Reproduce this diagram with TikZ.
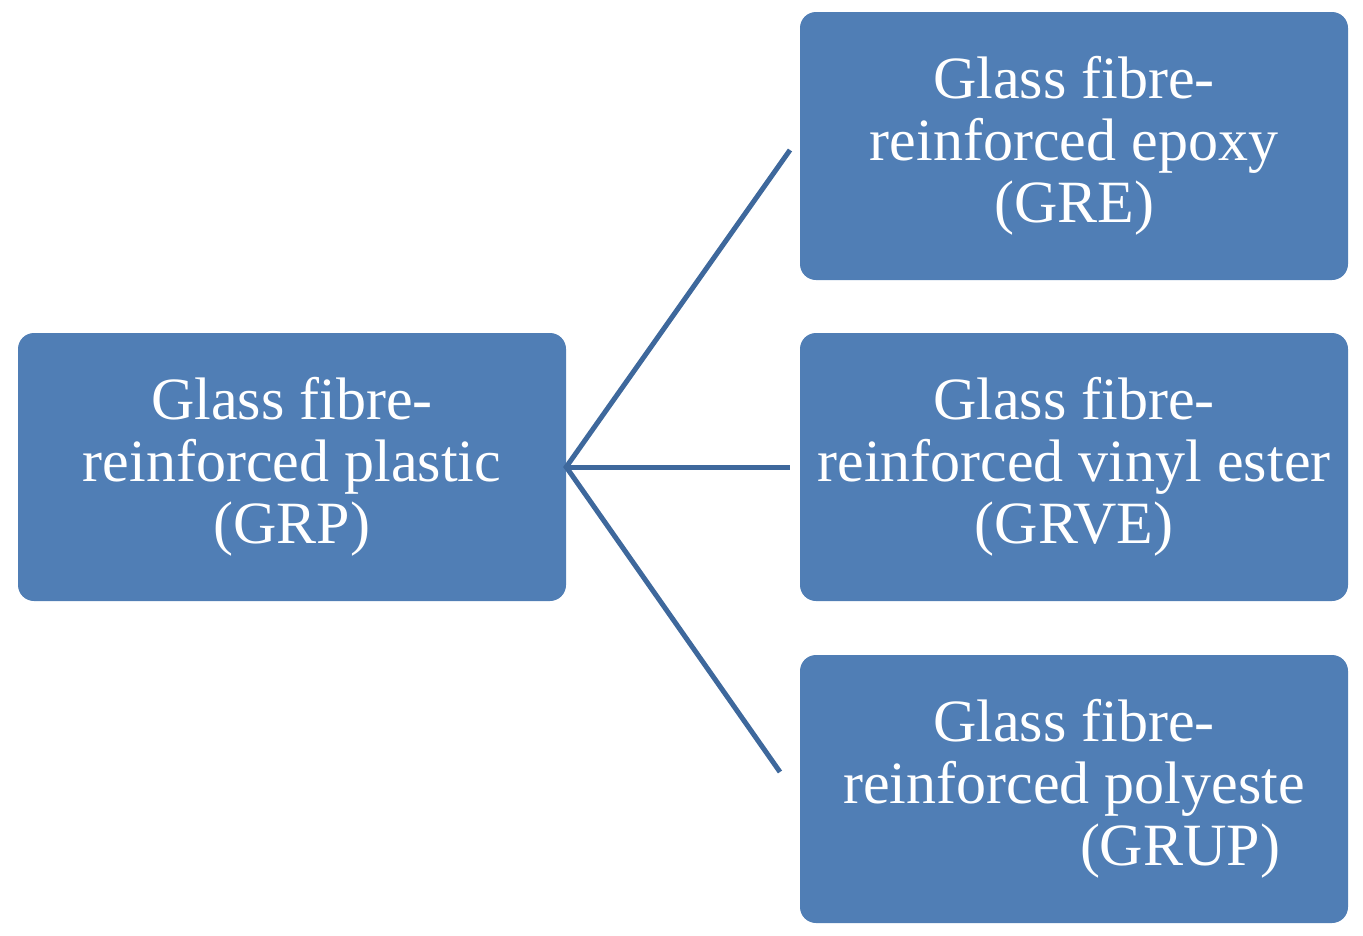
\documentclass[tikz,border=0pt]{standalone}
\usepackage{fontspec}
\setmainfont{Liberation Serif}
\definecolor{boxblue}{RGB}{80,126,181}
\definecolor{lineblue}{RGB}{62,104,156}
\begin{document}
\begin{tikzpicture}[x=1pt,y=-1pt,
  box/.style={draw=none,fill=boxblue,rounded corners=16pt,minimum width=548pt,minimum height=268pt,align=center,text=white,font=\fontsize{60}{62}\selectfont,inner sep=0pt},
  conn/.style={draw=lineblue,line width=5pt}]
\useasboundingbox (0,0) rectangle (1363,935);
\node[box] (grp) at (292,467) {Glass fibre-\\reinforced plastic\\(GRP)};
\node[box] (gre) at (1074,146) {Glass fibre-\\reinforced epoxy\\(GRE)};
\node[box] (grve) at (1074,467) {Glass fibre-\\reinforced vinyl ester\\(GRVE)};
\node[box] (grup) at (1074,789) {Glass fibre-\\reinforced polyeste\\\hspace*{212pt}(GRUP)};
\coordinate (a) at (790,150);
\coordinate (b) at (790,467);
\coordinate (c) at (780,772);
\draw[conn] (a) -- (grp.east) -- (c);
\draw[conn] (grp.east) -- (b);
\end{tikzpicture}
\end{document}
